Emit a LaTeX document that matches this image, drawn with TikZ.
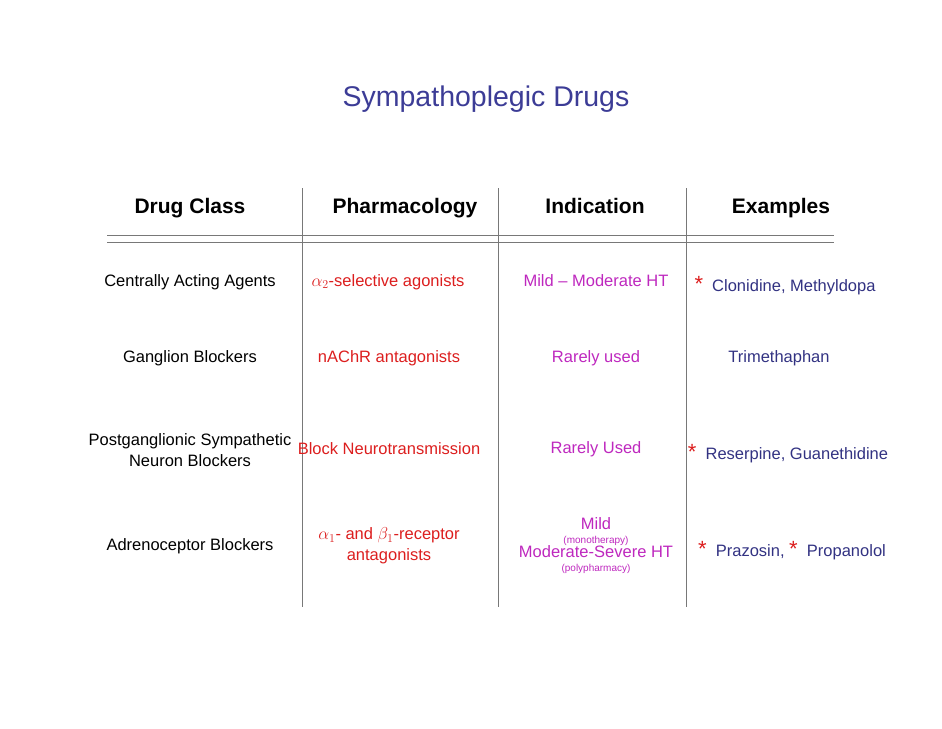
\documentclass[tikz,border=0pt]{standalone}
\usepackage{fontspec}
\setmainfont{Liberation Sans}
\definecolor{ttl}{RGB}{60,60,150}
\definecolor{rd}{RGB}{220,30,30}
\definecolor{mg}{RGB}{190,40,190}
\definecolor{nv}{RGB}{50,50,130}
\definecolor{ln}{RGB}{120,120,120}
\newcommand{\redstar}{\textcolor{rd}{\fontsize{22}{22}\selectfont *}}
\begin{document}
\begin{tikzpicture}[x=1pt,y=-1pt,
  hdr/.style={font=\fontsize{21}{25}\selectfont\bfseries,anchor=base},
  body/.style={font=\fontsize{16.5}{21}\selectfont,align=center},
  ph/.style={body,text=rd},
  ind/.style={body,text=mg},
  ex/.style={body,text=nv},
  sep/.style={draw=ln,line width=0.8pt}]
\useasboundingbox (0,0) rectangle (942,728);
\node[font=\fontsize{28.5}{32}\selectfont,text=ttl] (title) at (486,99) {Sympathoplegic Drugs};
\node[hdr] (h1) at (190,213) {Drug Class};
\node[hdr] (h2) at (405,213) {Pharmacology};
\node[hdr] (h3) at (595,213) {Indication};
\node[hdr] (h4) at (781,213) {Examples};
\coordinate (v1t) at (302,188); \coordinate (v1b) at (302,607);
\coordinate (v2t) at (498,188); \coordinate (v2b) at (498,607);
\coordinate (v3t) at (686,188); \coordinate (v3b) at (686,607);
\coordinate (l1a) at (107,235); \coordinate (l1b) at (834,235);
\coordinate (l2a) at (107,242); \coordinate (l2b) at (834,242);
\draw[sep] (v1t)--(v1b); \draw[sep] (v2t)--(v2b); \draw[sep] (v3t)--(v3b);
\draw[sep] (l1a)--(l1b); \draw[sep] (l2a)--(l2b);
\node[body] (c1) at (190,282) {Centrally Acting Agents};
\node[ph] (p1) at (388,282) {$\alpha_2$-selective agonists};
\node[ind] (i1) at (596,281) {Mild – Moderate HT};
\node[ex] (e1) at (785,286) {\redstar\ \ Clonidine, Methyldopa};
\node[body] (c2) at (190,358) {Ganglion Blockers};
\node[ph] (p2) at (389,358) {nAChR antagonists};
\node[ind] (i2) at (596,358) {Rarely used};
\node[ex] (e2) at (779,358) {Trimethaphan};
\node[body] (c3) at (190,450) {Postganglionic Sympathetic\\Neuron Blockers};
\node[ph] (p3) at (389,449) {Block Neurotransmission};
\node[ind] (i3) at (596,449) {Rarely Used};
\node[ex] (e3) at (788,454) {\redstar\ \ Reserpine, Guanethidine};
\node[body] (c4) at (190,546) {Adrenoceptor Blockers};
\node[ph] (p4) at (389,546) {$\alpha_1$- and $\beta_1$-receptor\\antagonists};
\node[ind] (i4) at (596,546) {Mild\\[-7pt]{\fontsize{10}{12}\selectfont (monotherapy)}\\[-7pt]Moderate-Severe HT\\[-7pt]{\fontsize{10}{12}\selectfont (polypharmacy)}};
\node[ex] (e4) at (792,551) {\redstar\ \ Prazosin,\ \redstar\ \ Propanolol};
\end{tikzpicture}
\end{document}
